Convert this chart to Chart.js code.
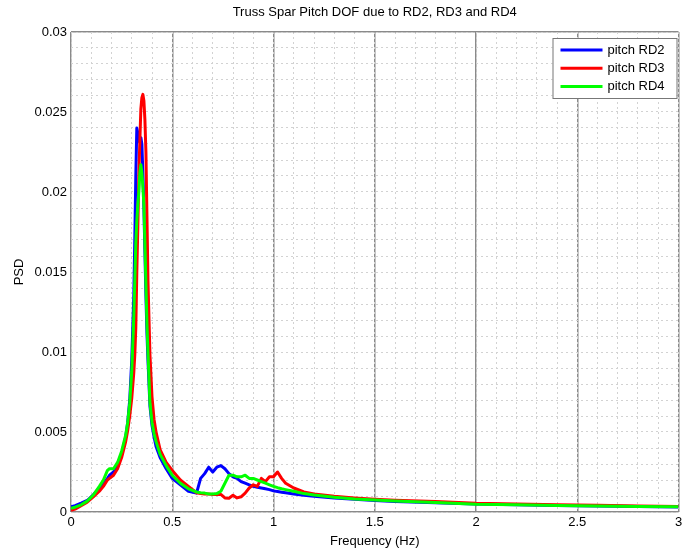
<!DOCTYPE html>
<html><head><meta charset="utf-8">
<script src="https://cdn.jsdelivr.net/npm/chart.js@4/dist/chart.umd.min.js"></script>
<style>html,body{margin:0;padding:0;background:#fff}#wrap{width:698px;height:550px}</style>
</head><body><div id="wrap"><canvas id="c" width="698" height="550"></canvas></div>
<script>
const chartTitle = 'Truss Spar Pitch DOF due to RD2, RD3 and RD4';
const xAxisTitle = 'Frequency (Hz)';
const yAxisTitle = 'PSD';
const seriesLabels = ['pitch RD2', 'pitch RD3', 'pitch RD4'];
const seriesColors = ['#0000ff', '#ff0000', '#00ff00'];
const xTickLabels = ['0', '0.5', '1', '1.5', '2', '2.5', '3'];
const yTickLabels = ['0', '0.005', '0.01', '0.015', '0.02', '0.025', '0.03'];

const freq = [0, 0.02, 0.05, 0.08, 0.11, 0.14, 0.16, 0.18, 0.19, 0.21,
  0.23, 0.25, 0.27, 0.28, 0.29, 0.30, 0.31, 0.315, 0.32, 0.325,
  0.33, 0.335, 0.34, 0.345, 0.35, 0.355, 0.36, 0.365, 0.37, 0.375,
  0.38, 0.39, 0.40, 0.41, 0.42, 0.44, 0.47, 0.50, 0.54, 0.58,
  0.62, 0.64, 0.66, 0.68, 0.70, 0.72, 0.74, 0.76, 0.78, 0.80,
  0.82, 0.84, 0.86, 0.88, 0.90, 0.92, 0.94, 0.96, 0.98, 1.00,
  1.02, 1.04, 1.06, 1.10, 1.15, 1.2, 1.3, 1.4, 1.5, 1.6,
  1.8, 2.0, 2.2, 2.4, 2.6, 2.8, 3.0];

const pitchRD2 = [0.00033, 0.0004, 0.00055, 0.00072, 0.00108, 0.0015, 0.0018, 0.0021, 0.0023, 0.0025,
  0.0029, 0.0036, 0.0047, 0.0056, 0.007, 0.0095, 0.0135, 0.017, 0.021, 0.024,
  0.0237, 0.0232, 0.0231, 0.0234, 0.0230, 0.0212, 0.019, 0.0162, 0.0135, 0.0112,
  0.0095, 0.0066, 0.0054, 0.0047, 0.0041, 0.0034, 0.0027, 0.0021, 0.0017, 0.0013,
  0.00118, 0.0021, 0.0024, 0.0028, 0.0025, 0.0028, 0.0029, 0.0027, 0.0024, 0.0022,
  0.0021, 0.0019, 0.0018, 0.0017, 0.0016, 0.00155, 0.0015, 0.00145, 0.0014, 0.00132,
  0.00128, 0.00124, 0.0012, 0.00112, 0.00105, 0.00098, 0.00088, 0.00079, 0.00072, 0.00066,
  0.00058, 0.0005, 0.00045, 0.00041, 0.00038, 0.00035, 0.00032];

const pitchRD3 = [0.0001, 0.00018, 0.0004, 0.00062, 0.00095, 0.0013, 0.0016, 0.002, 0.0021, 0.0023,
  0.0027, 0.0034, 0.0044, 0.0051, 0.006, 0.0071, 0.0087, 0.0098, 0.0115, 0.015,
  0.0178, 0.021, 0.0232, 0.0252, 0.0259, 0.0261, 0.0257, 0.0245, 0.0225, 0.0185,
  0.0145, 0.0098, 0.0072, 0.0058, 0.005, 0.0039, 0.0031, 0.0026, 0.002, 0.0016,
  0.0012, 0.00115, 0.00112, 0.00112, 0.0011, 0.0011, 0.0011, 0.00088, 0.00086, 0.00105,
  0.00088, 0.00095, 0.00118, 0.0015, 0.0017, 0.0016, 0.0021, 0.0019, 0.0022, 0.0022,
  0.0025, 0.0021, 0.0018, 0.0015, 0.00125, 0.00112, 0.00098, 0.00088, 0.0008, 0.00074,
  0.00066, 0.00055, 0.0005, 0.00046, 0.00042, 0.00038, 0.00034];

const pitchRD4 = [0.00023, 0.0003, 0.00045, 0.00068, 0.00106, 0.0016, 0.002, 0.0026, 0.0027, 0.0027,
  0.0031, 0.0038, 0.0048, 0.0056, 0.0068, 0.0088, 0.0122, 0.0145, 0.0168, 0.0182,
  0.0192, 0.02, 0.0212, 0.0217, 0.0212, 0.0203, 0.0192, 0.0168, 0.0142, 0.0118,
  0.0100, 0.0068, 0.0056, 0.0049, 0.0044, 0.0036, 0.0029, 0.0023, 0.0018, 0.00145,
  0.00125, 0.0012, 0.00118, 0.00112, 0.00112, 0.00115, 0.0013, 0.0018, 0.0023, 0.0023,
  0.0022, 0.0022, 0.0023, 0.0021, 0.0021, 0.002, 0.0019, 0.0018, 0.0017, 0.0016,
  0.00152, 0.00145, 0.0014, 0.0013, 0.00115, 0.00106, 0.00092, 0.00082, 0.00075, 0.00069,
  0.00059, 0.00049, 0.00045, 0.00041, 0.00038, 0.00035, 0.00033];

const seriesValues = [pitchRD2, pitchRD3, pitchRD4];
const FONT = '"Liberation Sans", Arial, sans-serif';

function majorLabel(v, step, labels) {
  const k = Math.round(v / step);
  return Math.abs(v - k * step) < 1e-9 ? labels[k] : '';
}

const titlePlugin = {
  id: 'matTitle',
  afterDraw(chart) {
    const ctx = chart.ctx, ca = chart.chartArea;
    ctx.save();
    ctx.font = '13px ' + FONT;
    ctx.fillStyle = '#000';
    ctx.textAlign = 'center';
    ctx.textBaseline = 'middle';
    ctx.fillText(chartTitle, (ca.left + ca.right) / 2, 12);
    ctx.restore();
  }
};

const legendPlugin = {
  id: 'matLegend',
  afterDraw(chart) {
    const ctx = chart.ctx, ca = chart.chartArea;
    const w = 124, h = 60;
    const left = ca.right - 2 - w, top = ca.top + 6;
    ctx.save();
    ctx.fillStyle = '#fff';
    ctx.fillRect(left, top, w, h);
    ctx.strokeStyle = '#777';
    ctx.lineWidth = 1;
    ctx.strokeRect(left + 0.5, top + 0.5, w, h);
    ctx.font = '13px ' + FONT;
    ctx.textBaseline = 'middle';
    ctx.textAlign = 'left';
    chart.data.datasets.forEach((ds, i) => {
      const y = top + 12 + i * 18.3;
      ctx.strokeStyle = ds.borderColor;
      ctx.lineWidth = 3;
      ctx.beginPath();
      ctx.moveTo(left + 8, y);
      ctx.lineTo(left + 50, y);
      ctx.stroke();
      ctx.fillStyle = '#000';
      ctx.fillText(ds.label, left + 55, y);
    });
    ctx.restore();
  }
};

new Chart(document.getElementById('c'), {
  type: 'line',
  data: {
    datasets: seriesValues.map((vals, i) => ({
      label: seriesLabels[i],
      data: freq.map((f, j) => ({ x: f, y: vals[j] })),
      borderColor: seriesColors[i],
      backgroundColor: seriesColors[i],
      borderWidth: 3,
      pointRadius: 0,
      tension: 0,
      borderJoinStyle: 'round',
      fill: false,
      order: 3 - i
    }))
  },
  options: {
    responsive: false,
    animation: false,
    devicePixelRatio: 1,
    layout: { padding: { left: 0, right: 19.5, top: 32, bottom: 0 } },
    plugins: { legend: { display: false }, title: { display: false }, tooltip: { enabled: false } },
    scales: {
      xMajor: {
        type: 'linear', position: 'bottom', min: 0, max: 3,
        ticks: { display: false, stepSize: 0.5, autoSkip: false },
        grid: { color: '#8a8a8a', lineWidth: 1.5, drawTicks: false },
        border: { display: false },
        afterFit: s => { s.height = 0; }
      },
      x: {
        type: 'linear', position: 'bottom', min: 0, max: 3,
        ticks: {
          stepSize: 0.1, autoSkip: false, maxRotation: 0, maxTicksLimit: 100,
          padding: 3, color: '#000', font: { family: FONT, size: 13 },
          callback: v => majorLabel(v, 0.5, xTickLabels)
        },
        grid: { color: '#d2d2d2', lineWidth: 1, drawTicks: false },
        border: { display: false, dash: [2, 3] },
        title: { display: true, text: xAxisTitle, color: '#000', font: { family: FONT, size: 13 }, padding: { top: 0, bottom: 1 } },
        afterFit: s => { s.height = 38; }
      },
      yFrame: {
        type: 'linear', position: 'left', min: 0, max: 0.03,
        ticks: { display: false, stepSize: 0.03, autoSkip: false },
        grid: { color: '#8a8a8a', lineWidth: 1.5, drawTicks: false },
        border: { display: false },
        afterFit: s => { s.width = 0; }
      },
      y: {
        type: 'linear', position: 'left', min: 0, max: 0.03,
        ticks: {
          stepSize: 0.001, autoSkip: false, maxTicksLimit: 100,
          padding: 4, color: '#000', font: { family: FONT, size: 13 },
          callback: v => majorLabel(v, 0.005, yTickLabels)
        },
        grid: { color: '#d2d2d2', lineWidth: 1, drawTicks: false },
        border: { display: false, dash: [2, 3] },
        title: { display: true, text: yAxisTitle, color: '#000', font: { family: FONT, size: 13 }, padding: { top: 12, bottom: 0 } },
        afterFit: s => { s.width = 71; }
      }
    }
  },
  plugins: [titlePlugin, legendPlugin]
});
</script>
</body></html>
